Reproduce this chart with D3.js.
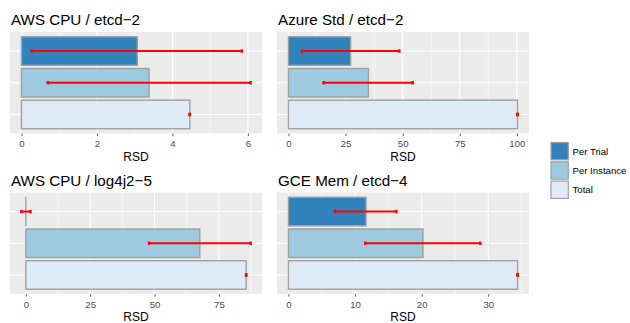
<!DOCTYPE html>
<html>
<head>
<meta charset="utf-8">
<script src="https://cdn.jsdelivr.net/npm/d3@7"></script>
<style>
  body { margin: 0; background: #fff; }
  svg { display: block; font-family: "Liberation Sans", Arial, sans-serif; }
</style>
</head>
<body>
<svg id="chart" width="630" height="323"></svg>
<script>
// categories / legend
const groups = ["Per Trial", "Per Instance", "Total"];
const groupColors = ["#3182bd", "#9ecae1", "#deebf7"];

// facet titles
const panelTitles = ["AWS CPU / etcd\u22122", "Azure Std / etcd\u22122", "AWS CPU / log4j2\u22125", "GCE Mem / etcd\u22124"];

// RSD values per panel, order = groups
const rsdMean = [[3.07, 3.38, 4.46], [27.2, 35.0, 100.3], [0, 67.6, 85.6], [11.65, 20.2, 34.4]];
const rsdLow  = [[0.27, 0.70, 4.46], [5.9, 15.4, 100.3], [-1.7, 47.9, 85.6], [7.0, 11.55, 34.4]];
const rsdHigh = [[5.84, 6.07, 4.46], [48.5, 54.4, 100.3], [1.8, 87.3, 85.6], [16.2, 28.8, 34.4]];

// tick labels on the x axis of each panel
const xTicks = [[0, 2, 4, 6], [0, 25, 50, 75, 100], [0, 25, 50, 75], [0, 10, 20, 30]];

let svg = d3.select('#chart');

// panel boxes
let colX = [10, 277];
let rowY = [32, 192.5];
let panelW = 252;
let panelH = 101.5;

function drawPanel(i) {
  let px = colX[i % 2];
  let py = rowY[Math.floor(i / 2)];
  let g = svg.append('g').attr('transform', `translate(${px},${py})`);

  // ggplot-like 5% expansion, always including 0
  let lo = d3.min(rsdLow[i].concat([0]));
  let hi = d3.max(rsdHigh[i].concat(rsdMean[i]));
  let pad = (hi - lo) * 0.05;
  let xScale = d3.scaleLinear()
    .domain([lo - pad, hi + pad])
    .range([0, panelW]);

  let yScale = d3.scaleBand()
    .domain(groups)
    .range([0, panelH])
    .paddingInner(0.1)
    .paddingOuter(0.15);

  // background
  g.append('rect')
    .attr('width', panelW)
    .attr('height', panelH)
    .attr('fill', '#ebebeb');

  // minor grid at midpoints between ticks
  let ticks = xTicks[i];
  let step = ticks[1] - ticks[0];
  let minor = d3.range(ticks[0] - step / 2, hi + pad + step, step)
    .filter((v) => xScale(v) >= 0 && xScale(v) <= panelW);
  g.selectAll('.minor')
    .data(minor)
    .enter()
    .append('line')
    .attr('x1', (d) => xScale(d))
    .attr('x2', (d) => xScale(d))
    .attr('y1', 0)
    .attr('y2', panelH)
    .attr('stroke', '#fff')
    .attr('stroke-width', 0.55);

  g.selectAll('.major')
    .data(ticks)
    .enter()
    .append('line')
    .attr('x1', (d) => xScale(d))
    .attr('x2', (d) => xScale(d))
    .attr('y1', 0)
    .attr('y2', panelH)
    .attr('stroke', '#fff')
    .attr('stroke-width', 1.1);

  g.selectAll('.hgrid')
    .data(groups)
    .enter()
    .append('line')
    .attr('x1', 0)
    .attr('x2', panelW)
    .attr('y1', (d) => yScale(d) + yScale.bandwidth() / 2)
    .attr('y2', (d) => yScale(d) + yScale.bandwidth() / 2)
    .attr('stroke', '#fff')
    .attr('stroke-width', 1.1);

  // bars (a zero bar still shows its outline)
  g.selectAll('.bar')
    .data(groups)
    .enter()
    .append('rect')
    .attr('x', xScale(0))
    .attr('y', (d) => yScale(d))
    .attr('width', (d, j) => Math.max(xScale(rsdMean[i][j]) - xScale(0), 0.05))
    .attr('height', yScale.bandwidth())
    .attr('fill', (d, j) => groupColors[j])
    .attr('stroke', '#a0a0a0')
    .attr('stroke-width', 1.4);

  // error bars
  let eb = g.selectAll('.err')
    .data(groups)
    .enter()
    .append('g')
    .attr('transform', (d) => `translate(0,${yScale(d) + yScale.bandwidth() / 2})`);
  eb.append('line')
    .attr('x1', (d, j) => xScale(rsdLow[i][j]))
    .attr('x2', (d, j) => xScale(rsdHigh[i][j]))
    .attr('stroke', '#ff0000')
    .attr('stroke-width', 2);
  eb.append('line')
    .attr('x1', (d, j) => xScale(rsdLow[i][j]))
    .attr('x2', (d, j) => xScale(rsdLow[i][j]))
    .attr('y1', -1.7)
    .attr('y2', 1.7)
    .attr('stroke', '#ff0000')
    .attr('stroke-width', 2.6);
  eb.append('line')
    .attr('x1', (d, j) => xScale(rsdHigh[i][j]))
    .attr('x2', (d, j) => xScale(rsdHigh[i][j]))
    .attr('y1', -1.7)
    .attr('y2', 1.7)
    .attr('stroke', '#ff0000')
    .attr('stroke-width', 2.6);

  // x axis
  let axis = g.append('g')
    .attr('transform', `translate(0,${panelH})`)
    .call(d3.axisBottom(xScale).tickValues(ticks).tickFormat(d3.format('~g')).tickSize(2.7).tickPadding(4));
  axis.select('.domain').remove();
  axis.selectAll('.tick line').attr('stroke', '#333').attr('stroke-width', 0.8);
  axis.selectAll('.tick text')
    .attr('fill', '#4d4d4d')
    .style('font-size', '9.6px')
    .style('font-family', '"Liberation Sans", Arial, sans-serif');

  // axis title
  g.append('text')
    .attr('x', panelW / 2)
    .attr('y', panelH + 27.2)
    .attr('text-anchor', 'middle')
    .style('font-size', '12px')
    .attr('fill', '#000')
    .text('RSD');

  // panel title
  g.append('text')
    .attr('x', 1)
    .attr('y', -7)
    .style('font-size', '15.2px')
    .attr('fill', '#000')
    .text(panelTitles[i]);
}

panelTitles.forEach((t, i) => drawPanel(i));

// legend
let legend = svg.append('g').attr('transform', 'translate(551,142.5)');
let keys = legend.selectAll('.key')
  .data(groups)
  .enter()
  .append('g')
  .attr('transform', (d, j) => `translate(0,${j * 19.3})`);
keys.append('rect')
  .attr('width', 17.3)
  .attr('height', 17.3)
  .attr('fill', (d, j) => groupColors[j])
  .attr('stroke', '#a0a0a0')
  .attr('stroke-width', 1.2);
keys.append('text')
  .attr('x', 21.5)
  .attr('y', 12.3)
  .style('font-size', '9.6px')
  .attr('fill', '#000')
  .text((d) => d);
</script>
</body>
</html>
